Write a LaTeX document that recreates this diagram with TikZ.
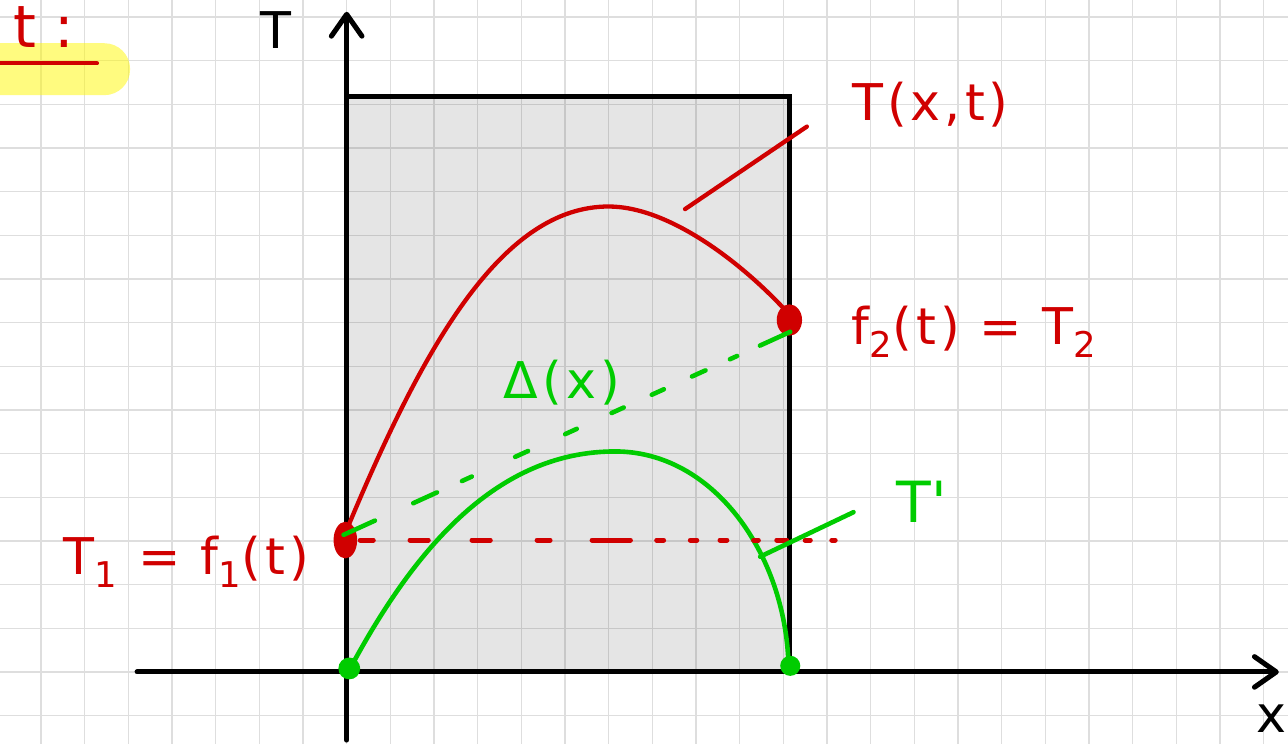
\documentclass[tikz,border=0pt]{standalone}
\usepackage{fontspec}
\setmainfont{DejaVu Sans}
\usepackage{tikz}
\usetikzlibrary{arrows.meta,calc,shapes.geometric}
\definecolor{PenRed}{HTML}{D00000}
\definecolor{PenGreen}{HTML}{00CC00}
\definecolor{BoxGray}{HTML}{E5E5E5}
\definecolor{HiYellow}{HTML}{FFF700}

\begin{document}
\begin{tikzpicture}[
    gridline/.style={draw=black, opacity=0.13, line width=0.9pt},
    axis/.style={line width=3.3pt, line cap=round, -{Straight Barb[length=5mm,width=7mm,round]}},
    box/.style={draw=black, line width=3.3pt},
    redpen/.style={draw=PenRed, line width=2.8pt, line cap=round, line join=round},
    greenpen/.style={draw=PenGreen, line width=3pt, line cap=round, line join=round},
    reddot/.style={ellipse, fill=PenRed, inner sep=0pt},
    greendot/.style={circle, fill=PenGreen, inner sep=0pt, minimum size=5mm},
    lbl/.style={inner sep=0pt, font=\fontsize{33}{36}\selectfont\addfontfeature{LetterSpace=8}}
]
\useasboundingbox (-7.94,-1.65) rectangle (21.56,15.39);

% paper
\fill[BoxGray] (0,0) rectangle (10.15,13.19);
\draw[gridline] (-7.94,-1.65) grid (21.56,15.39);
\fill[HiYellow, fill opacity=0.5, rounded corners=0.59cm] (-8.8,13.21) rectangle (-4.96,14.40);

\draw[box] (0,13.19) -- (10.15,13.19) -- (10.15,0);

% axes
\coordinate (xl) at (-4.80,0);
\coordinate (xr) at (21.35,0);
\coordinate (yb) at (0,-1.56);
\coordinate (yt) at (0,15.12);
\draw[axis] (xl) -- (xr);
\draw[axis] (yb) -- (yt);

% curves
\coordinate (rtop) at (6.0,10.66);
\coordinate (gtop) at (6.15,5.05);
\draw[redpen] (-0.03,3.18) .. controls (1.8,7.6) and (3.6,10.66) .. (rtop)
  .. controls (7.4,10.66) and (9.08,9.34) .. (10.08,8.25);
\draw[greenpen] (0.08,0.08) .. controls (1.7,3.1) and (3.6,5.05) .. (gtop)
  .. controls (8.4,5.05) and (10.05,2.7) .. (10.12,0.16);

% red level line
\foreach \a/\b in {0.31/0.61, 1.45/1.87, 2.87/3.29, 4.36/4.66, 5.62/6.50, 7.10/7.26, 7.87/8.02, 8.55/8.71, 9.32/9.43, 9.85/10.08, 10.50/10.62, 11.11/11.19}
  \draw[redpen, line width=3.2pt] (\a,3.02) -- (\b,3.02);

% end points
\node[reddot, minimum width=5.4mm, minimum height=8.4mm] (r1) at (-0.03,3.02) {};
\node[reddot, minimum width=5.8mm, minimum height=7.2mm] (r2) at (10.14,8.06) {};
\node[greendot] (g1) at (0.06,0.08) {};
\node[greendot, minimum size=4.6mm] (g2) at (10.16,0.14) {};

% green secant
\coordinate (gA) at (-0.07,3.14);
\coordinate (gB) at (10.16,7.79);
\foreach \a/\b in {0/0.07, 0.156/0.209, 0.265/0.287, 0.384/0.413, 0.496/0.522, 0.60/0.627, 0.69/0.717, 0.78/0.81, 0.865/0.881, 0.932/1}
  \draw[greenpen] ($(gA)!\a!(gB)$) -- ($(gA)!\b!(gB)$);

% leaders
\coordinate (tx) at (7.75,10.60);
\coordinate (txe) at (10.54,12.49);
\draw[redpen] (tx) -- (txe);
\coordinate (tp) at (9.47,2.64);
\coordinate (tpe) at (11.61,3.66);
\draw[greenpen] (tp) -- (tpe);

% labels
\draw[redpen] (-7.94,13.94) -- (-5.72,13.94);
\node[lbl, text=PenRed, font=\fontsize{38}{42}\selectfont] (lbltt) at (-6.93,14.78) {t :};
\node[lbl] (lblT) at (-1.62,14.70) {T};
\node[lbl] (lblx) at (21.19,-1.06) {x};
\node[lbl, text=PenRed] (lblTxt) at (13.37,12.99) {T(x,t)};
\node[lbl, text=PenRed] (lblf2) at (14.37,7.79) {f\textsubscript{2}(t) = T\textsubscript{2}};
\node[lbl, text=PenRed] (lblf1) at (-3.67,2.52) {T\textsubscript{1} = f\textsubscript{1}(t)};
\node[lbl, text=PenGreen] (lblD) at (4.93,6.63) {Δ(x)};
\node[lbl, text=PenGreen, font=\fontsize{37}{40}\selectfont] (lblTp) at (13.17,3.90) {T\textquotesingle};
\end{tikzpicture}
\end{document}
